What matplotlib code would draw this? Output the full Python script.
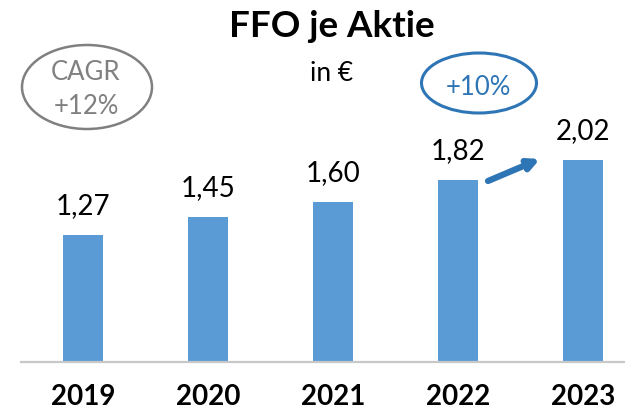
import matplotlib
matplotlib.use("Agg")
import matplotlib.pyplot as plt
from matplotlib.patches import Ellipse

plt.rcParams['font.family'] = ['Lato', 'DejaVu Sans']

# data
years = ["2019", "2020", "2021", "2022", "2023"]
ffo = [1.27, 1.45, 1.60, 1.82, 2.02]
labels = ["1,27", "1,45", "1,60", "1,82", "2,02"]

W, H = 625, 416
fig = plt.figure(figsize=(W / 100, H / 100), dpi=100)
ax = fig.add_axes([21 / W, (H - 362) / H, (W - 21) / W, 300 / H])

x = range(len(years))
ax.bar(x, ffo, width=0.32, color="#5B9BD5", zorder=2)
for i, (v, t) in enumerate(zip(ffo, labels)):
    ax.annotate(t, (i, v), xytext=(0, 15), textcoords="offset points",
                ha="center", va="baseline", fontsize=20, color="black")

ax.set_xlim(-0.496, 4.336)
ax.set_ylim(0, 3.0)
ax.set_xticks(list(x))
ax.set_xticklabels(years, fontsize=20, fontweight="bold")
ax.tick_params(axis="x", length=0, pad=16)
ax.set_yticks([])
for s in ["top", "right", "left"]:
    ax.spines[s].set_visible(False)
ax.spines["bottom"].set_color("#C8C8C8")
ax.spines["bottom"].set_linewidth(1.6)

# title and unit
fig.text(332 / W, (H - 37) / H, "FFO je Aktie", ha="center", va="baseline",
         fontsize=26.5, fontweight="bold")
fig.text(332 / W, (H - 81) / H, "in €", ha="center", va="baseline", fontsize=19)

# CAGR ellipse
fig.patches.append(Ellipse((87 / W, (H - 87) / H), 130 / W, 84 / H, fill=False,
                           edgecolor="#808080", lw=1.8, transform=fig.transFigure))
fig.text(86 / W, (H - 80) / H, "CAGR", ha="center", va="baseline", fontsize=18.5, color="#808080")
fig.text(86 / W, (H - 114) / H, "+12%", ha="center", va="baseline", fontsize=18.5, color="#808080")

# growth ellipse
fig.patches.append(Ellipse((479 / W, (H - 83) / H), 115 / W, 60 / H, fill=False,
                           edgecolor="#2E75B6", lw=2.2, transform=fig.transFigure))
fig.text(478 / W, (H - 95) / H, "+10%", ha="center", va="baseline", fontsize=18.5, color="#2E75B6")

# arrow
ax.annotate("", xy=(540, H - 159), xytext=(488, H - 181),
            xycoords="figure pixels", textcoords="figure pixels",
            arrowprops=dict(arrowstyle="-|>", lw=4.5, color="#2E75B6",
                            mutation_scale=16, shrinkA=0, shrinkB=0))

fig.savefig("out.png", dpi=100)
